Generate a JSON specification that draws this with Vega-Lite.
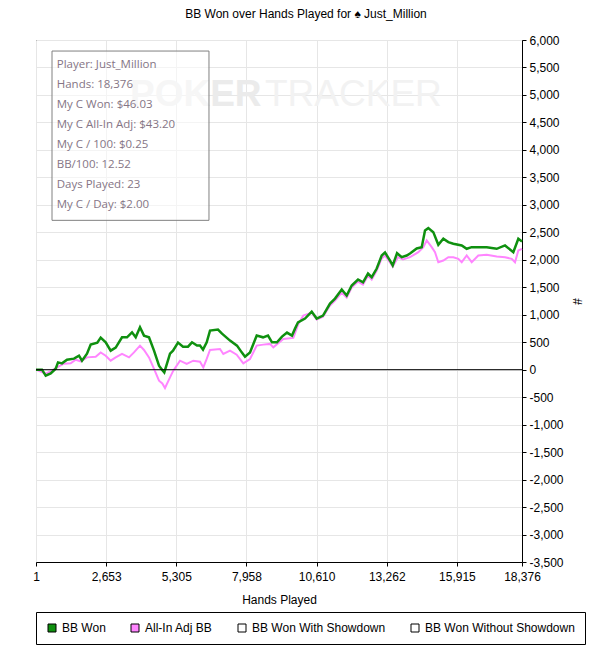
{
  "$schema": "https://vega.github.io/schema/vega-lite/v6.json",
  "description": "BB Won over Hands Played for Just_Million",
  "width": 486,
  "height": 522,
  "autosize": {"type": "none"},
  "padding": {"left": 36, "top": 40, "right": 92, "bottom": 90},
  "title": {
    "text": "BB Won over Hands Played for ♠ Just_Million",
    "font": "Liberation Sans",
    "fontSize": 12,
    "fontWeight": "normal",
    "color": "black",
    "offset": 13,
    "dx": 27
  },
  "datasets": {
    "bb": [
      {"series": "All-In Adj BB", "hands": 1, "bb": 0},
      {"series": "All-In Adj BB", "hands": 368, "bb": -73},
      {"series": "All-In Adj BB", "hands": 606, "bb": -18},
      {"series": "All-In Adj BB", "hands": 795, "bb": 42},
      {"series": "All-In Adj BB", "hands": 1060, "bb": 109},
      {"series": "All-In Adj BB", "hands": 1313, "bb": 115},
      {"series": "All-In Adj BB", "hands": 1502, "bb": 182},
      {"series": "All-In Adj BB", "hands": 1691, "bb": 151},
      {"series": "All-In Adj BB", "hands": 1929, "bb": 224},
      {"series": "All-In Adj BB", "hands": 2258, "bb": 237},
      {"series": "All-In Adj BB", "hands": 2447, "bb": 315},
      {"series": "All-In Adj BB", "hands": 2636, "bb": 255},
      {"series": "All-In Adj BB", "hands": 2825, "bb": 164},
      {"series": "All-In Adj BB", "hands": 3014, "bb": 224},
      {"series": "All-In Adj BB", "hands": 3253, "bb": 286},
      {"series": "All-In Adj BB", "hands": 3517, "bb": 224},
      {"series": "All-In Adj BB", "hands": 3706, "bb": 315},
      {"series": "All-In Adj BB", "hands": 3933, "bb": 438},
      {"series": "All-In Adj BB", "hands": 4084, "bb": 359},
      {"series": "All-In Adj BB", "hands": 4273, "bb": 224},
      {"series": "All-In Adj BB", "hands": 4463, "bb": 13},
      {"series": "All-In Adj BB", "hands": 4652, "bb": -201},
      {"series": "All-In Adj BB", "hands": 4777, "bb": -250},
      {"series": "All-In Adj BB", "hands": 4878, "bb": -334},
      {"series": "All-In Adj BB", "hands": 5068, "bb": -140},
      {"series": "All-In Adj BB", "hands": 5192, "bb": -18},
      {"series": "All-In Adj BB", "hands": 5446, "bb": 164},
      {"series": "All-In Adj BB", "hands": 5699, "bb": 104},
      {"series": "All-In Adj BB", "hands": 5948, "bb": 164},
      {"series": "All-In Adj BB", "hands": 6202, "bb": 146},
      {"series": "All-In Adj BB", "hands": 6327, "bb": 42},
      {"series": "All-In Adj BB", "hands": 6455, "bb": 195},
      {"series": "All-In Adj BB", "hands": 6580, "bb": 359},
      {"series": "All-In Adj BB", "hands": 6958, "bb": 377},
      {"series": "All-In Adj BB", "hands": 7083, "bb": 286},
      {"series": "All-In Adj BB", "hands": 7336, "bb": 346},
      {"series": "All-In Adj BB", "hands": 7589, "bb": 273},
      {"series": "All-In Adj BB", "hands": 7839, "bb": 115},
      {"series": "All-In Adj BB", "hands": 8092, "bb": 195},
      {"series": "All-In Adj BB", "hands": 8346, "bb": 438},
      {"series": "All-In Adj BB", "hands": 8595, "bb": 456},
      {"series": "All-In Adj BB", "hands": 8849, "bb": 469},
      {"series": "All-In Adj BB", "hands": 8973, "bb": 407},
      {"series": "All-In Adj BB", "hands": 9352, "bb": 560},
      {"series": "All-In Adj BB", "hands": 9730, "bb": 578},
      {"series": "All-In Adj BB", "hands": 9919, "bb": 833},
      {"series": "All-In Adj BB", "hands": 10108, "bb": 984},
      {"series": "All-In Adj BB", "hands": 10425, "bb": 1039},
      {"series": "All-In Adj BB", "hands": 10614, "bb": 912},
      {"series": "All-In Adj BB", "hands": 10853, "bb": 966},
      {"series": "All-In Adj BB", "hands": 11117, "bb": 1167},
      {"series": "All-In Adj BB", "hands": 11306, "bb": 1258},
      {"series": "All-In Adj BB", "hands": 11560, "bb": 1404},
      {"series": "All-In Adj BB", "hands": 11748, "bb": 1313},
      {"series": "All-In Adj BB", "hands": 11937, "bb": 1495},
      {"series": "All-In Adj BB", "hands": 12176, "bb": 1604},
      {"series": "All-In Adj BB", "hands": 12365, "bb": 1550},
      {"series": "All-In Adj BB", "hands": 12554, "bb": 1714},
      {"series": "All-In Adj BB", "hands": 12694, "bb": 1641},
      {"series": "All-In Adj BB", "hands": 12883, "bb": 1805},
      {"series": "All-In Adj BB", "hands": 13072, "bb": 2024},
      {"series": "All-In Adj BB", "hands": 13197, "bb": 2078},
      {"series": "All-In Adj BB", "hands": 13386, "bb": 1951},
      {"series": "All-In Adj BB", "hands": 13488, "bb": 1878},
      {"series": "All-In Adj BB", "hands": 13688, "bb": 2047},
      {"series": "All-In Adj BB", "hands": 13877, "bb": 2005},
      {"series": "All-In Adj BB", "hands": 14142, "bb": 2047},
      {"series": "All-In Adj BB", "hands": 14456, "bb": 2138},
      {"series": "All-In Adj BB", "hands": 14645, "bb": 2230},
      {"series": "All-In Adj BB", "hands": 14773, "bb": 2352},
      {"series": "All-In Adj BB", "hands": 14962, "bb": 2230},
      {"series": "All-In Adj BB", "hands": 15087, "bb": 2138},
      {"series": "All-In Adj BB", "hands": 15212, "bb": 1956},
      {"series": "All-In Adj BB", "hands": 15401, "bb": 1987},
      {"series": "All-In Adj BB", "hands": 15590, "bb": 2047},
      {"series": "All-In Adj BB", "hands": 15779, "bb": 2047},
      {"series": "All-In Adj BB", "hands": 15968, "bb": 2018},
      {"series": "All-In Adj BB", "hands": 16097, "bb": 1956},
      {"series": "All-In Adj BB", "hands": 16285, "bb": 2078},
      {"series": "All-In Adj BB", "hands": 16474, "bb": 1956},
      {"series": "All-In Adj BB", "hands": 16724, "bb": 2078},
      {"series": "All-In Adj BB", "hands": 17042, "bb": 2091},
      {"series": "All-In Adj BB", "hands": 17420, "bb": 2060},
      {"series": "All-In Adj BB", "hands": 17734, "bb": 2047},
      {"series": "All-In Adj BB", "hands": 17987, "bb": 2018},
      {"series": "All-In Adj BB", "hands": 18112, "bb": 1956},
      {"series": "All-In Adj BB", "hands": 18237, "bb": 2169},
      {"series": "All-In Adj BB", "hands": 18376, "bb": 2200},
      {"series": "BB Won", "hands": 1, "bb": 0},
      {"series": "BB Won", "hands": 228, "bb": 0},
      {"series": "BB Won", "hands": 368, "bb": -109},
      {"series": "BB Won", "hands": 557, "bb": -67},
      {"series": "BB Won", "hands": 746, "bb": 18},
      {"series": "BB Won", "hands": 833, "bb": 133},
      {"series": "BB Won", "hands": 984, "bb": 115},
      {"series": "BB Won", "hands": 1173, "bb": 182},
      {"series": "BB Won", "hands": 1438, "bb": 201},
      {"series": "BB Won", "hands": 1627, "bb": 255},
      {"series": "BB Won", "hands": 1740, "bb": 164},
      {"series": "BB Won", "hands": 1929, "bb": 292},
      {"series": "BB Won", "hands": 2069, "bb": 456},
      {"series": "BB Won", "hands": 2319, "bb": 492},
      {"series": "BB Won", "hands": 2447, "bb": 583},
      {"series": "BB Won", "hands": 2636, "bb": 498},
      {"series": "BB Won", "hands": 2825, "bb": 346},
      {"series": "BB Won", "hands": 3014, "bb": 401},
      {"series": "BB Won", "hands": 3253, "bb": 589},
      {"series": "BB Won", "hands": 3442, "bb": 589},
      {"series": "BB Won", "hands": 3631, "bb": 680},
      {"series": "BB Won", "hands": 3771, "bb": 589},
      {"series": "BB Won", "hands": 3933, "bb": 771},
      {"series": "BB Won", "hands": 4084, "bb": 620},
      {"series": "BB Won", "hands": 4273, "bb": 589},
      {"series": "BB Won", "hands": 4463, "bb": 346},
      {"series": "BB Won", "hands": 4652, "bb": 73},
      {"series": "BB Won", "hands": 4765, "bb": 0},
      {"series": "BB Won", "hands": 4852, "bb": -49},
      {"series": "BB Won", "hands": 5068, "bb": 292},
      {"series": "BB Won", "hands": 5181, "bb": 346},
      {"series": "BB Won", "hands": 5370, "bb": 492},
      {"series": "BB Won", "hands": 5559, "bb": 419},
      {"series": "BB Won", "hands": 5748, "bb": 419},
      {"series": "BB Won", "hands": 5899, "bb": 498},
      {"series": "BB Won", "hands": 6088, "bb": 438},
      {"series": "BB Won", "hands": 6202, "bb": 438},
      {"series": "BB Won", "hands": 6315, "bb": 365},
      {"series": "BB Won", "hands": 6455, "bb": 498},
      {"series": "BB Won", "hands": 6580, "bb": 711},
      {"series": "BB Won", "hands": 6882, "bb": 729},
      {"series": "BB Won", "hands": 7034, "bb": 656},
      {"series": "BB Won", "hands": 7336, "bb": 529},
      {"series": "BB Won", "hands": 7601, "bb": 438},
      {"series": "BB Won", "hands": 7779, "bb": 315},
      {"series": "BB Won", "hands": 7903, "bb": 237},
      {"series": "BB Won", "hands": 8092, "bb": 315},
      {"series": "BB Won", "hands": 8346, "bb": 620},
      {"series": "BB Won", "hands": 8584, "bb": 589},
      {"series": "BB Won", "hands": 8773, "bb": 620},
      {"series": "BB Won", "hands": 8924, "bb": 498},
      {"series": "BB Won", "hands": 9113, "bb": 498},
      {"series": "BB Won", "hands": 9302, "bb": 602},
      {"series": "BB Won", "hands": 9491, "bb": 675},
      {"series": "BB Won", "hands": 9680, "bb": 620},
      {"series": "BB Won", "hands": 9794, "bb": 747},
      {"series": "BB Won", "hands": 9907, "bb": 862},
      {"series": "BB Won", "hands": 10172, "bb": 930},
      {"series": "BB Won", "hands": 10425, "bb": 1057},
      {"series": "BB Won", "hands": 10614, "bb": 930},
      {"series": "BB Won", "hands": 10853, "bb": 984},
      {"series": "BB Won", "hands": 11117, "bb": 1203},
      {"series": "BB Won", "hands": 11306, "bb": 1294},
      {"series": "BB Won", "hands": 11560, "bb": 1458},
      {"series": "BB Won", "hands": 11748, "bb": 1349},
      {"series": "BB Won", "hands": 11937, "bb": 1531},
      {"series": "BB Won", "hands": 12176, "bb": 1641},
      {"series": "BB Won", "hands": 12365, "bb": 1591},
      {"series": "BB Won", "hands": 12554, "bb": 1750},
      {"series": "BB Won", "hands": 12694, "bb": 1683},
      {"series": "BB Won", "hands": 12883, "bb": 1841},
      {"series": "BB Won", "hands": 13072, "bb": 2078},
      {"series": "BB Won", "hands": 13197, "bb": 2133},
      {"series": "BB Won", "hands": 13386, "bb": 1987},
      {"series": "BB Won", "hands": 13488, "bb": 1896},
      {"series": "BB Won", "hands": 13651, "bb": 2120},
      {"series": "BB Won", "hands": 13828, "bb": 2047},
      {"series": "BB Won", "hands": 14017, "bb": 2078},
      {"series": "BB Won", "hands": 14142, "bb": 2115},
      {"series": "BB Won", "hands": 14395, "bb": 2206},
      {"series": "BB Won", "hands": 14584, "bb": 2230},
      {"series": "BB Won", "hands": 14709, "bb": 2534},
      {"series": "BB Won", "hands": 14834, "bb": 2576},
      {"series": "BB Won", "hands": 15023, "bb": 2503},
      {"series": "BB Won", "hands": 15212, "bb": 2273},
      {"series": "BB Won", "hands": 15401, "bb": 2383},
      {"series": "BB Won", "hands": 15590, "bb": 2321},
      {"series": "BB Won", "hands": 15779, "bb": 2292},
      {"series": "BB Won", "hands": 16097, "bb": 2261},
      {"series": "BB Won", "hands": 16285, "bb": 2200},
      {"series": "BB Won", "hands": 16474, "bb": 2230},
      {"series": "BB Won", "hands": 16724, "bb": 2230},
      {"series": "BB Won", "hands": 17042, "bb": 2230},
      {"series": "BB Won", "hands": 17420, "bb": 2200},
      {"series": "BB Won", "hands": 17734, "bb": 2261},
      {"series": "BB Won", "hands": 18048, "bb": 2138},
      {"series": "BB Won", "hands": 18237, "bb": 2383},
      {"series": "BB Won", "hands": 18376, "bb": 2333}
    ]
  },
  "layer": [
    {
      "data": {"name": "bb"},
      "transform": [{"filter": "datum.series == 'All-In Adj BB'"}],
      "mark": {"type": "line", "strokeWidth": 2, "color": "#ff85ff"},
      "encoding": {
        "x": {
          "field": "hands",
          "type": "quantitative",
          "title": "Hands Played",
          "scale": {"domain": [1, 18376], "nice": false, "zero": false},
          "axis": {
            "grid": true,
            "values": [1, 2653, 5305, 7958, 10610, 13262, 15915, 18376],
            "tickCount": 8,
            "format": ",.0f",
            "tickSize": 4,
            "labelPadding": 5,
            "titlePadding": 12,
            "labelOverlap": false,
            "labelFlush": false
          }
        },
        "y": {
          "field": "bb",
          "type": "quantitative",
          "title": "#",
          "scale": {"domain": [-3500, 6000], "nice": false, "zero": false},
          "axis": {
            "grid": true,
            "orient": "right",
            "values": [-3500, -3000, -2500, -2000, -1500, -1000, -500, 0, 500, 1000, 1500, 2000, 2500, 3000, 3500, 4000, 4500, 5000, 5500, 6000],
            "tickCount": 20,
            "labelExpr": "replace(format(datum.value, ',.0f'), '\u2212', '-')",
            "tickSize": 4,
            "labelPadding": 3,
            "titlePadding": 6,
            "labelOverlap": false,
            "labelFlush": false
          }
        }
      }
    },
    {
      "data": {"name": "bb"},
      "transform": [{"filter": "datum.series == 'BB Won'"}],
      "mark": {"type": "line", "strokeWidth": 2.5, "color": "#0f900f"},
      "encoding": {
        "x": {"field": "hands", "type": "quantitative"},
        "y": {"field": "bb", "type": "quantitative"}
      }
    },
    {
      "data": {"name": "bb"},
      "mark": {"type": "point", "shape": "square", "filled": true, "size": 64, "opacity": 0, "stroke": "black", "strokeWidth": 1},
      "encoding": {
        "x": {"field": "hands", "type": "quantitative"},
        "y": {"field": "bb", "type": "quantitative"},
        "color": {
          "field": "series",
          "type": "nominal",
          "scale": {
            "domain": ["BB Won", "All-In Adj BB", "BB Won With Showdown", "BB Won Without Showdown"],
            "range": ["#0f900f", "#ff85ff", "#ffffff", "#ffffff"]
          },
          "legend": {
            "title": null,
            "orient": "none",
            "legendX": 0,
            "legendY": 572,
            "direction": "horizontal",
            "padding": 10,
            "strokeColor": "black",
            "columnPadding": 23,
            "labelOffset": 4,
            "symbolType": "square",
            "symbolSize": 64,
            "symbolOpacity": 1,
            "symbolStrokeColor": "black",
            "symbolStrokeWidth": 1
          }
        }
      }
    },
    {
      "data": {"values": [{}]},
      "mark": {"type": "rule", "color": "black", "strokeWidth": 1},
      "encoding": {"y": {"datum": 0, "type": "quantitative"}}
    },
    {
      "data": {"values": [{}]},
      "mark": {"type": "text", "text": "POKER", "font": "Liberation Sans", "fontSize": 37, "fontWeight": "bold", "color": "#ebebeb", "align": "left", "baseline": "alphabetic"},
      "encoding": {
        "x": {"datum": 3555, "type": "quantitative"},
        "y": {"datum": 4794, "type": "quantitative"}
      }
    },
    {
      "data": {"values": [{}]},
      "mark": {"type": "text", "text": "TRACKER", "font": "Liberation Sans", "fontSize": 37, "color": "#f2f2f2", "align": "left", "baseline": "alphabetic"},
      "encoding": {
        "x": {"datum": 8659, "type": "quantitative"},
        "y": {"datum": 4794, "type": "quantitative"}
      }
    },
    {
      "data": {"values": [{}]},
      "mark": {"type": "rect", "fill": "white", "fillOpacity": 0.55, "stroke": "#808080", "strokeWidth": 1},
      "encoding": {
        "x": {"datum": 606, "type": "quantitative"},
        "x2": {"datum": 6541},
        "y": {"datum": 5799, "type": "quantitative"},
        "y2": {"datum": 2718}
      }
    },
    {
      "data": {"values": [{}]},
      "mark": {
        "type": "text",
        "text": ["Player: Just_Million", "Hands: 18,376", "My C Won: $46.03", "My C All-In Adj: $43.20", "My C / 100: $0.25", "BB/100: 12.52", "Days Played: 23", "My C / Day: $2.00"],
        "font": "Open Sans",
        "fontSize": 11.5,
        "lineHeight": 20,
        "color": "#857585",
        "align": "left",
        "baseline": "top"
      },
      "encoding": {
        "x": {"datum": 784, "type": "quantitative"},
        "y": {"datum": 5652, "type": "quantitative"}
      }
    }
  ],
  "config": {
    "view": {"stroke": "black", "strokeWidth": 1},
    "axis": {
      "grid": true,
      "labelOverlap": false,
      "labelFont": "Liberation Sans",
      "labelFontSize": 12,
      "labelColor": "black",
      "titleFont": "Liberation Sans",
      "titleFontSize": 12,
      "titleFontWeight": "normal",
      "titleColor": "black",
      "domainColor": "black",
      "tickColor": "black",
      "gridColor": "#e6e6e6",
      "gridOpacity": 1
    },
    "legend": {
      "labelFont": "Liberation Sans",
      "labelFontSize": 12,
      "labelColor": "black",
      "labelLimit": 300
    }
  }
}
